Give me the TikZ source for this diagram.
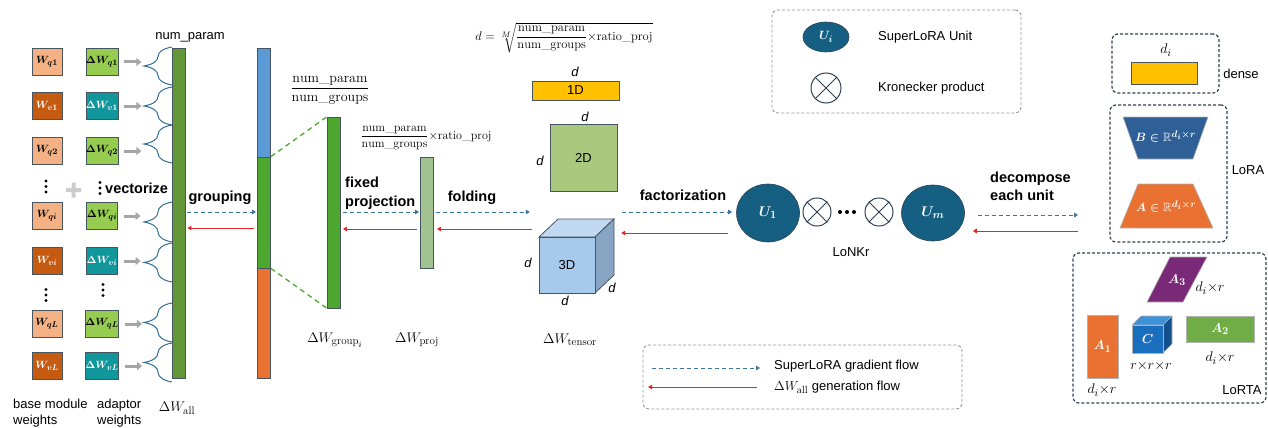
\RequirePackage{fix-cm}
\documentclass[tikz,border=0pt]{standalone}
\usepackage{fontspec}
\setsansfont{Liberation Sans}
\usepackage{amsmath,amssymb}
\DeclareMathSizes{10.5}{10.5}{8.4}{7}
\DeclareMathSizes{12}{12}{9.6}{7.5}
\DeclareMathSizes{12.5}{12.5}{10}{8}
\DeclareMathSizes{13}{13}{10.4}{8}
\DeclareMathSizes{14}{14}{11}{8.5}
\usetikzlibrary{arrows.meta,decorations.pathreplacing,shapes.geometric,calc}
\definecolor{wq}{RGB}{244,177,131}
\definecolor{wv}{RGB}{197,90,17}
\definecolor{dwq}{RGB}{150,205,80}
\definecolor{dwv}{RGB}{17,150,155}
\definecolor{boxedge}{RGB}{70,85,95}
\definecolor{barall}{RGB}{98,150,55}
\definecolor{gblue}{RGB}{91,155,213}
\definecolor{ggreen}{RGB}{78,167,46}
\definecolor{gorange}{RGB}{233,113,50}
\definecolor{projc}{RGB}{160,195,145}
\definecolor{oneD}{RGB}{255,192,0}
\definecolor{twoD}{RGB}{169,201,127}
\definecolor{cubeF}{RGB}{166,201,236}
\definecolor{cubeT}{RGB}{192,216,240}
\definecolor{cubeS}{RGB}{135,165,195}
\definecolor{unitc}{RGB}{21,96,130}
\definecolor{gradc}{RGB}{60,115,160}
\definecolor{genc}{RGB}{225,40,40}
\definecolor{bracec}{RGB}{50,110,150}
\definecolor{bblue}{RGB}{46,95,150}
\definecolor{purp}{RGB}{122,40,120}
\definecolor{cF}{RGB}{25,110,190}
\definecolor{cT}{RGB}{60,145,215}
\definecolor{cS}{RGB}{20,80,140}
\definecolor{atwo}{RGB}{112,173,71}
\definecolor{navyd}{RGB}{45,65,85}
\definecolor{legc}{RGB}{150,150,150}
\begin{document}
\begin{tikzpicture}[x=1pt,y=-1pt,
  font=\sffamily\fontsize{13}{15}\selectfont,
  wbox/.style={draw=boxedge, line width=0.7pt, minimum width=30pt, minimum height=27pt, inner sep=0pt, font=\fontsize{10.5}{12}\selectfont\boldmath},
  bar/.style={draw=boxedge, line width=0.8pt, minimum width=13pt, inner sep=0pt},
  blabel/.style={font=\sffamily\bfseries\fontsize{14.5}{17}\selectfont},
  mlabel/.style={font=\fontsize{14}{16}\selectfont},
  wlabel/.style={text=white, font=\fontsize{13}{15}\selectfont\boldmath},
  grad/.style={gradc, dash pattern=on 4pt off 3pt, line width=1pt, -{Triangle[length=4pt,width=4.5pt]}},
  gen/.style={genc, line width=1pt, -{Triangle[length=4pt,width=4.5pt]}},
  garrow/.style={gray!70, line width=3pt, -{Triangle[length=5pt,width=8pt]}},
  brc/.style={bracec, line width=1pt, decorate, decoration={brace, amplitude=28pt}},
  dbox/.style={draw=navyd, dash pattern=on 3pt off 2pt, line width=1.2pt, rounded corners=6pt, inner sep=0pt},
  lbox/.style={draw=legc, dash pattern=on 3pt off 2pt, line width=0.9pt, rounded corners=6pt, inner sep=0pt},
  kron/.style={circle, draw=navyd, line width=1pt, inner sep=0pt},
  unit/.style={ellipse, fill=unitc, draw=navyd, line width=0.6pt, text=white, inner sep=0pt, font=\fontsize{14}{16}\selectfont\boldmath}
]
\useasboundingbox (0,0) rectangle (1268,428);

% ---------- left columns
\node[wbox, fill=wq] (bq1) at (47,62) {$W_{q1}$};
\node[wbox, fill=wv, text=white] (bv1) at (47,106) {$W_{v1}$};
\node[wbox, fill=wq] (bq2) at (47,151) {$W_{q2}$};
\node[wbox, fill=wq] (bqi) at (47,216) {$W_{qi}$};
\node[wbox, fill=wv, text=white] (bvi) at (47,261) {$W_{vi}$};
\node[wbox, fill=wq] (bqL) at (47,324) {$W_{qL}$};
\node[wbox, fill=wv, text=white] (bvL) at (47,366) {$W_{vL}$};
\node[wbox, fill=dwq] (aq1) at (102,62) {$\Delta W_{q1}$};
\node[wbox, fill=dwv, text=white] (av1) at (102,106) {$\Delta W_{v1}$};
\node[wbox, fill=dwq] (aq2) at (102,151) {$\Delta W_{q2}$};
\node[wbox, fill=dwq] (aqi) at (102,216) {$\Delta W_{qi}$};
\node[wbox, fill=dwv, text=white] (avi) at (102,261) {$\Delta W_{vi}$};
\node[wbox, fill=dwq] (aqL) at (102,324) {$\Delta W_{qL}$};
\node[wbox, fill=dwv, text=white] (avL) at (102,366) {$\Delta W_{vL}$};
% vertical dots
\foreach \x/\y in {46/186.5, 46/295, 100/188, 103/290}{
  \fill[black] (\x,\y-5.5) circle (1.6) (\x,\y) circle (1.6) (\x,\y+5.5) circle (1.6);
}
\fill[gray!40] (66,188) rectangle (81,192) (71.5,182.5) rectangle (75.5,197.5);
\node[blabel, anchor=west, inner sep=0pt] (vec) at (105,188) {vectorize};

\foreach \n in {aq1,av1,aq2,aqi,avi,aqL,avL}{
  \draw[garrow] ([xshift=6pt]\n.east) -- ++(17,0);
}

% bar all
\node[bar, fill=barall, minimum height=330pt] (all) at (178.5,213) {};
\foreach \a/\b in {85/47,125/87,163/125,242/202,282/243,342/303,382/343}{
  \draw[brc] (172,\a) -- (172,\b);
}
\node (np) at (190,37) {num\_param};
\node[mlabel] (lall) at (177,408) {$\Delta W_{\mathrm{all}}$};
\node[anchor=west, align=left, inner sep=0pt, font=\sffamily\fontsize{13}{15.5}\selectfont] (lbase) at (13,413) {base module\\weights};
\node[anchor=west, align=left, inner sep=0pt, font=\sffamily\fontsize{13}{15.5}\selectfont] (ladp) at (97,413) {adaptor\\weights};

% grouped bar
\node[bar, fill=gblue, minimum height=109pt] (grpB) at (264,102.5) {};
\node[bar, fill=ggreen, minimum height=111pt] (grpG) at (264,212.5) {};
\node[bar, fill=gorange, minimum height=110pt] (grpO) at (264,323) {};
\node[blabel] (lgroup) at (220,198) {grouping};
\draw[grad, shorten <=2pt, shorten >=1pt] (all.east |- 0,212) -- (grpG.west |- 0,212);
\draw[gen, shorten <=3pt, shorten >=2pt] (grpG.west |- 0,228) -- (all.east |- 0,228);

% group i
\node[bar, fill=ggreen, minimum height=191pt] (gi) at (334,212.5) {};
\draw[ggreen, dash pattern=on 5pt off 4pt, line width=1.3pt] (grpG.north east) -- (gi.north west);
\draw[ggreen, dash pattern=on 5pt off 4pt, line width=1.3pt] (grpG.south east) -- (gi.south west);
\node[mlabel] (fr1) at (330,90) {$\dfrac{\mathrm{num\_param}}{\mathrm{num\_groups}}$};
\node[mlabel] (lgi) at (335,340) {$\Delta W_{\mathrm{group}_i}$};
\node[blabel, align=left, anchor=west, inner sep=0pt, font=\sffamily\bfseries\fontsize{14.5}{19}\selectfont] (lfix) at (345,193) {fixed\\projection};

% projection
\node[bar, fill=projc, minimum height=111pt] (pj) at (427,212.5) {};
\draw[grad, shorten <=2pt, shorten >=1pt] (gi.east |- 0,212) -- (pj.west |- 0,212);
\draw[gen, shorten <=3pt, shorten >=2pt] (pj.west |- 0,229) -- (gi.east |- 0,229);
\node[font=\fontsize{12}{14}\selectfont] (fr2) at (426,138) {$\dfrac{\mathrm{num\_param}}{\mathrm{num\_groups}}{\times}\mathrm{ratio\_proj}$};
\node[mlabel] (lpj) at (417,340) {$\Delta W_{\mathrm{proj}}$};
\node[blabel] (lfold) at (472,198) {folding};

% formula
\node[font=\fontsize{12.5}{15}\selectfont] (form) at (564,38) {$d=\sqrt[\scriptscriptstyle M]{\dfrac{\mathrm{num\_param}}{\mathrm{num\_groups}}{\times}\mathrm{ratio\_proj}}$};

% 1D, 2D, 3D
\node[draw=boxedge, line width=0.8pt, fill=oneD, minimum width=87pt, minimum height=19pt, inner sep=0pt] (r1) at (575.5,90.5) {1D};
\node[font=\sffamily\itshape\fontsize{13}{15}\selectfont] (d1) at (575,72) {d};
\node[draw=boxedge, line width=0.8pt, fill=twoD, minimum width=67pt, minimum height=67pt, inner sep=0pt] (sq2) at (583.5,157.5) {2D};
\node[font=\sffamily\itshape\fontsize{13}{15}\selectfont] (d2a) at (585,117) {d};
\node[font=\sffamily\itshape\fontsize{13}{15}\selectfont] (d2b) at (540,161) {d};

\node[minimum width=75pt, minimum height=74pt, inner sep=0pt] (cube) at (576.5,256) {};
\draw[draw=boxedge, line width=0.8pt, fill=cubeT] (539,237) -- (558,219) -- (614,219) -- (595,237) -- cycle;
\draw[draw=boxedge, line width=0.8pt, fill=cubeS] (595,237) -- (614,219) -- (614,275) -- (595,293) -- cycle;
\draw[draw=boxedge, line width=0.8pt, fill=cubeF] (539,237) rectangle (595,293);
\node (l3d) at (567,265) {3D};
\node[font=\sffamily\itshape\fontsize{13}{15}\selectfont] (d3a) at (528,263) {d};
\node[font=\sffamily\itshape\fontsize{13}{15}\selectfont] (d3b) at (565,301) {d};
\node[font=\sffamily\itshape\fontsize{13}{15}\selectfont] (d3c) at (612,288) {d};
\node[mlabel] (lten) at (570,340) {$\Delta W_{\mathrm{tensor}}$};

\draw[grad, shorten <=2pt, shorten >=9pt] (pj.east |- 0,212) -- (cube.west |- 0,212);
\draw[gen, shorten <=7pt, shorten >=3pt] (cube.west |- 0,229) -- (pj.east |- 0,229);

% units
\node[unit, minimum width=63pt, minimum height=58pt] (U1) at (768,213) {$U_1$};
\node[kron, minimum size=28pt] (k1) at (817,212) {};
\draw[navyd, line width=1pt] (k1.north west) -- (k1.south east) (k1.north east) -- (k1.south west);
\fill[black] (840,212) circle (2) (847,212) circle (2) (854,212) circle (2);
\node[kron, minimum size=28pt] (k2) at (879,212) {};
\draw[navyd, line width=1pt] (k2.north west) -- (k2.south east) (k2.north east) -- (k2.south west);
\node[unit, minimum width=63pt, minimum height=56pt] (Um) at (933,213) {$U_m$};
\node (lonkr) at (851,252) {LoNKr};
\node[blabel] (lfact) at (683,195) {factorization};
\draw[grad, shorten <=8pt, shorten >=4pt] (cube.east |- 0,212) -- (U1.west |- 0,212);
\draw[gen, shorten <=8pt, shorten >=7pt] (U1.west |- 0,233) -- (cube.east |- 0,233);

\node[blabel, align=left, anchor=west, inner sep=0pt, font=\sffamily\bfseries\fontsize{14.5}{18}\selectfont] (ldec) at (990,186) {decompose\\each unit};
\coordinate (decA) at (1078,215);
\coordinate (decB) at (1078,231);
\draw[grad, shorten <=13pt] (Um.east |- 0,215) -- (decA);
\draw[gen, shorten >=8pt] (decB) -- (Um.east |- 0,231);

% top legend
\node[lbox, minimum width=249pt, minimum height=103pt] (leg1) at (896.5,61.5) {};
\node[unit, minimum width=46pt, minimum height=30pt, font=\fontsize{12}{14}\selectfont\boldmath] (Ui) at (826,37) {$U_i$};
\node[kron, minimum size=30pt] (k3) at (826,88) {};
\draw[navyd, line width=1pt] (k3.north west) -- (k3.south east) (k3.north east) -- (k3.south west);
\node[anchor=west, inner sep=0pt] (tsu) at (878,37) {SuperLoRA Unit};
\node[anchor=west, inner sep=0pt] (tkr) at (878,88) {Kronecker product};

% bottom legend
\node[lbox, minimum width=319pt, minimum height=64pt] (leg2) at (802.5,377) {};
\coordinate (lgA) at (652,368);
\coordinate (lgB) at (760,368);
\coordinate (lgC) at (757,387);
\coordinate (lgD) at (648,387);
\draw[grad] (lgA) -- (lgB);
\draw[gen] (lgC) -- (lgD);
\node[anchor=west, inner sep=0pt] (tgf) at (774,366) {SuperLoRA gradient flow};
\node[anchor=west, inner sep=0pt] (tgen) at (774,387) {$\Delta W_{\mathrm{all}}$ generation flow};

% right: dense
\node[dbox, minimum width=107pt, minimum height=59pt] (dense) at (1165.5,63.5) {};
\node[draw=boxedge, line width=0.8pt, fill=oneD, minimum width=66pt, minimum height=22pt, inner sep=0pt] (yb) at (1164,73) {};
\node[mlabel] (ldi) at (1166,50) {$d_i$};
\node (ldense) at (1241,74) {dense};

% LoRA
\node[dbox, minimum width=117pt, minimum height=137pt] (lora) at (1168.5,173.5) {};
\draw[draw=gray!60, line width=0.6pt, fill=bblue] (1123,117) -- (1208,117) -- (1193,159) -- (1138,159) -- cycle;
\node[wlabel, font=\fontsize{12}{14}\selectfont\boldmath] (lB) at (1165.5,137) {$B\in\mathbb{R}^{d_i\times r}$};
\draw[draw=gray!60, line width=0.6pt, fill=gorange] (1138,184) -- (1193,184) -- (1213,228) -- (1120,228) -- cycle;
\node[wlabel, font=\fontsize{12}{14}\selectfont\boldmath] (lA) at (1166,207) {$A\in\mathbb{R}^{d_i\times r}$};
\node (llora) at (1248,170) {LoRA};

% LoRTA
\node[dbox, minimum width=193pt, minimum height=150pt] (lorta) at (1169.5,328) {};
\draw[draw=gray!60, line width=0.6pt, fill=purp] (1170,257) -- (1207,257) -- (1183,302) -- (1147,302) -- cycle;
\node[wlabel] (lA3) at (1177,280) {$A_3$};
\node[mlabel] (lA3d) at (1210,288) {$d_i{\times}r$};
\draw[draw=gray!60, line width=0.6pt, fill=cT] (1132,325) -- (1141,316) -- (1172,316) -- (1163,325) -- cycle;
\draw[draw=gray!60, line width=0.6pt, fill=cS] (1163,325) -- (1172,316) -- (1172,344) -- (1163,353) -- cycle;
\node[draw=gray!60, line width=0.6pt, fill=cF, minimum width=31pt, minimum height=28pt, inner sep=0pt, wlabel] (cC) at (1147.5,339) {$C$};
\node[mlabel] (lC) at (1151,366) {$r{\times}r{\times}r$};
\node[draw=gray!60, line width=0.6pt, fill=gorange, minimum width=31pt, minimum height=63pt, inner sep=0pt, wlabel] (A1) at (1102.5,346.5) {$A_1$};
\node[mlabel] (lA1) at (1102,390) {$d_i{\times}r$};
\node[draw=gray!60, line width=0.6pt, fill=atwo, minimum width=68pt, minimum height=26pt, inner sep=0pt, wlabel] (A2) at (1220,329) {$A_2$};
\node[mlabel] (lA2) at (1220,358) {$d_i{\times}r$};
\node (llorta) at (1242,390) {LoRTA};
\end{tikzpicture}
\end{document}
